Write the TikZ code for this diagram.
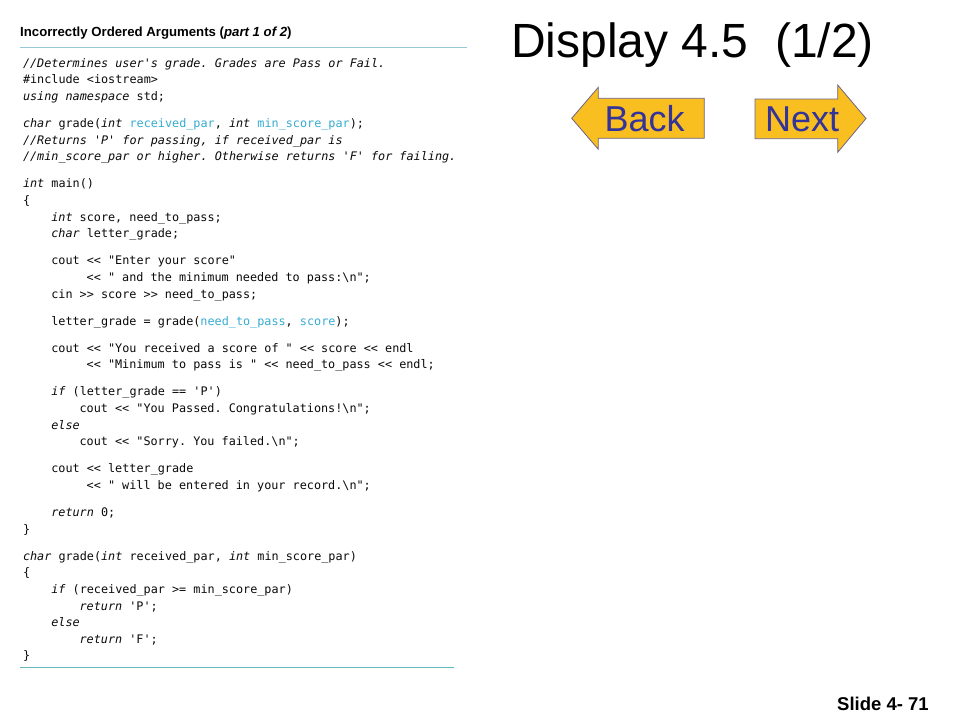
\documentclass[tikz,border=0pt]{standalone}
\usepackage{fontspec}
\setmainfont{Liberation Sans}
\newfontfamily\codefont{DejaVu Sans Mono}
\newfontfamily\arialfont{Liberation Sans}
\definecolor{codeblue}{RGB}{55,172,208}
\definecolor{codeink}{RGB}{10,10,10}
\definecolor{ruletop}{RGB}{150,200,214}
\definecolor{rulebot}{RGB}{100,184,190}
\definecolor{btnfill}{RGB}{249,190,32}
\definecolor{btnedge}{RGB}{110,100,135}
\definecolor{btntext}{RGB}{51,51,153}
\newcommand{\blu}[1]{\textcolor{codeblue}{#1}}
\newcommand{\sq}{\textquotesingle}
\begin{document}
\frenchspacing
\begin{tikzpicture}[x=1pt,y=-1pt,
  codeline/.style={anchor=base west,inner sep=0pt,outer sep=0pt,text=codeink,
    font=\codefont\fontsize{11.8pt}{14pt}\selectfont},
  btnshape/.style={fill=btnfill,draw=btnedge,line width=0.8pt,line join=miter},
  btnlabel/.style={anchor=base west,inner sep=0pt,text=btntext,
    font=\arialfont\fontsize{36pt}{40pt}\selectfont},
  rulestyle/.style={line width=1.4pt}]
\useasboundingbox (0,0) rectangle (960,720);
\fill[white] (0,0) rectangle (960,720);

% header
\node[anchor=base west,inner sep=0pt,font=\arialfont\bfseries\fontsize{13.2pt}{15pt}\selectfont] (hdr) at (20,36)
  {Incorrectly Ordered Arguments (\textit{part 1 of 2})};
\coordinate (rt1) at (20,47.7);
\coordinate (rt2) at (467,47.7);
\draw[rulestyle,ruletop] (rt1) -- (rt2);

% code
\def\xa{23}\def\xb{51.3}\def\xc{79.6}\def\xd{86.7}
\node[codeline] (l1) at (\xa,67.3) {\textit{//Determines user\sq s grade. Grades are Pass or Fail.}};
\node[codeline] (l2) at (\xa,83.9) {\#include <iostream>};
\node[codeline] (l3) at (\xa,100.5) {\textit{using namespace} std;};
\node[codeline] (l4) at (\xa,127.6) {\textit{char} grade(\textit{int} \blu{received\_par}, \textit{int} \blu{min\_score\_par});};
\node[codeline] (l5) at (\xa,144.2) {\textit{//Returns \sq P\sq{} for passing, if received\_par is}};
\node[codeline] (l6) at (\xa,160.8) {\textit{//min\_score\_par or higher. Otherwise returns \sq F\sq{} for failing.}};
\node[codeline] (l7) at (\xa,187.9) {\textit{int} main()};
\node[codeline] (l8) at (\xa,204.5) {\{};
\node[codeline] (l9) at (\xb,221.1) {\textit{int} score, need\_to\_pass;};
\node[codeline] (l10) at (\xb,237.7) {\textit{char} letter\_grade;};
\node[codeline] (l11) at (\xb,264.8) {cout << "Enter your score"};
\node[codeline] (l12) at (\xd,281.4) {<< " and the minimum needed to pass:\textbackslash n";};
\node[codeline] (l13) at (\xb,298.0) {cin >> score >> need\_to\_pass;};
\node[codeline] (l14) at (\xb,325.1) {letter\_grade = grade(\blu{need\_to\_pass}, \blu{score});};
\node[codeline] (l15) at (\xb,352.2) {cout << "You received a score of " << score << endl};
\node[codeline] (l16) at (\xd,368.8) {<< "Minimum to pass is " << need\_to\_pass << endl;};
\node[codeline] (l17) at (\xb,395.9) {\textit{if} (letter\_grade == \sq P\sq)};
\node[codeline] (l18) at (\xc,412.5) {cout << "You Passed. Congratulations!\textbackslash n";};
\node[codeline] (l19) at (\xb,429.1) {\textit{else}};
\node[codeline] (l20) at (\xc,445.7) {cout << "Sorry. You failed.\textbackslash n";};
\node[codeline] (l21) at (\xb,472.8) {cout << letter\_grade};
\node[codeline] (l22) at (\xd,489.4) {<< " will be entered in your record.\textbackslash n";};
\node[codeline] (l23) at (\xb,516.5) {\textit{return} 0;};
\node[codeline] (l24) at (\xa,533.1) {\}};
\node[codeline] (l25) at (\xa,560.2) {\textit{char} grade(\textit{int} received\_par, \textit{int} min\_score\_par)};
\node[codeline] (l26) at (\xa,576.8) {\{};
\node[codeline] (l27) at (\xb,593.4) {\textit{if} (received\_par >= min\_score\_par)};
\node[codeline] (l28) at (\xc,610.0) {\textit{return} \sq P\sq;};
\node[codeline] (l29) at (\xb,626.6) {\textit{else}};
\node[codeline] (l30) at (\xc,643.2) {\textit{return} \sq F\sq;};
\node[codeline] (l31) at (\xa,659.8) {\}};

\coordinate (rb1) at (20,667.3);
\coordinate (rb2) at (454,667.3);
\draw[line width=1.2pt,rulebot] (rb1) -- (rb2);

% title
\node[anchor=base west,inner sep=0pt,font=\arialfont\fontsize{48pt}{52pt}\selectfont] (title) at (511,57)
  {Display 4.5\ \ (1/2)};

% back button
\draw[btnshape] (704.3,98.3) -- (598.3,98.3) -- (598.3,87.3) -- (571.7,118.3)
  -- (598.3,149.3) -- (598.3,138.3) -- (704.3,138.3) -- cycle;
\node[btnlabel] (back) at (604.5,131) {Back};

% next button
\draw[btnshape] (755,99) -- (837.7,99) -- (837.7,85) -- (866,118.5)
  -- (837.7,152.3) -- (837.7,138.7) -- (755,138.7) -- cycle;
\node[btnlabel] (next) at (765,131) {Next};

% slide number
\node[anchor=base west,inner sep=0pt,font=\arialfont\bfseries\fontsize{18.5pt}{20pt}\selectfont] (slideno) at (837,710)
  {Slide 4- 71};
\end{tikzpicture}
\end{document}
